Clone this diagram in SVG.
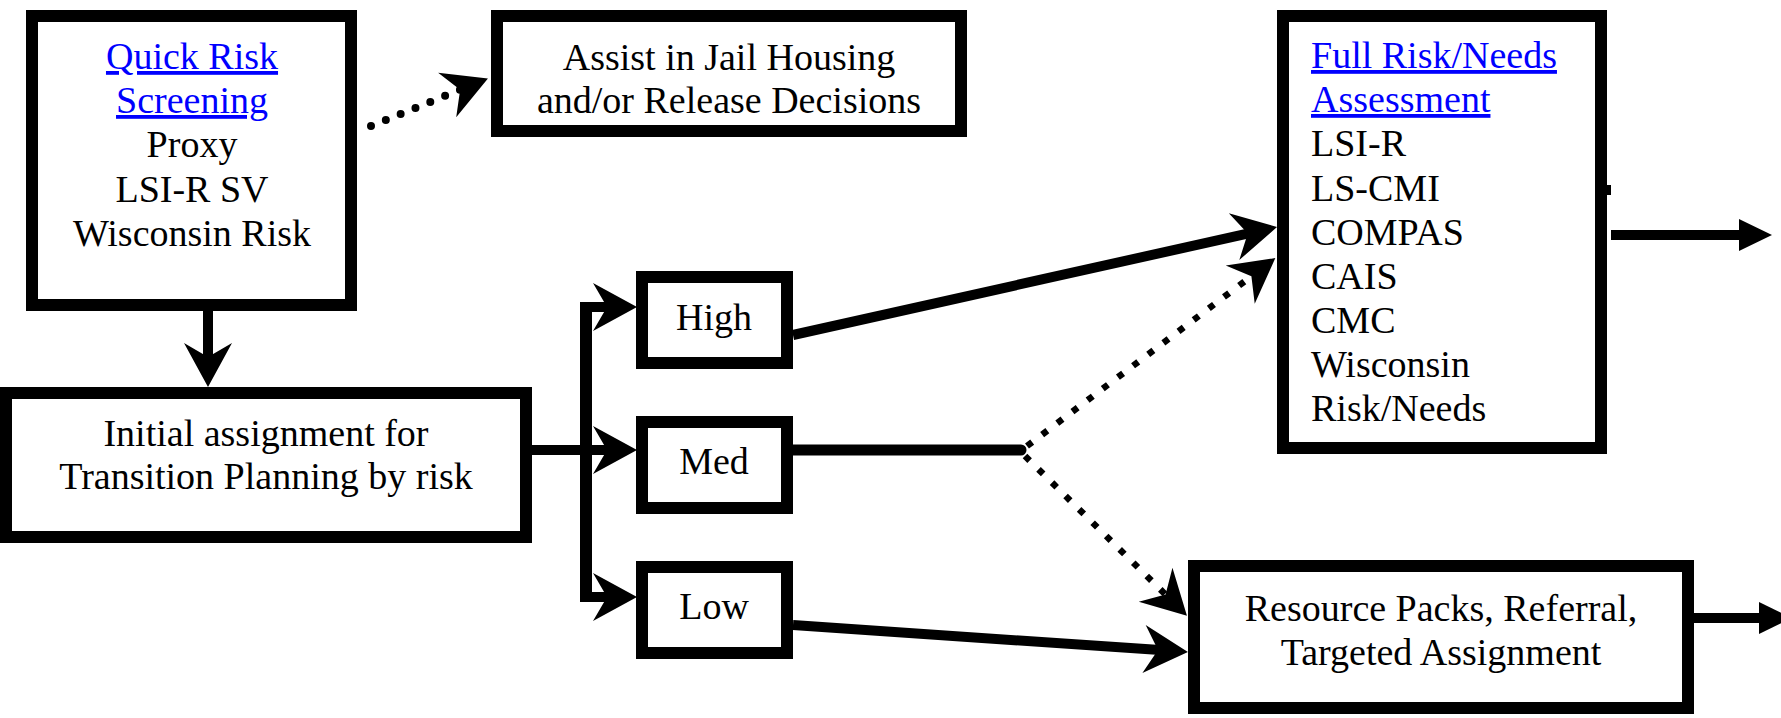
<svg xmlns="http://www.w3.org/2000/svg" width="1781" height="718" viewBox="0 0 1781 718">
<defs>
<marker id="stealth" markerUnits="userSpaceOnUse" viewBox="-50 -30 60 60" markerWidth="60" markerHeight="60" refX="-28" refY="0" orient="auto">
<path d="M0,0 L-44,-24 L-30,0 L-44,24 Z" fill="#000"/>
</marker>
<marker id="tri" markerUnits="userSpaceOnUse" viewBox="-40 -20 50 40" markerWidth="50" markerHeight="40" refX="-32" refY="0" orient="auto">
<path d="M0,0 L-33,-16 L-33,16 Z" fill="#000"/>
</marker>
</defs>
<g id="connectors" fill="none" stroke="#000" stroke-width="10">
<path d="M208,311 V359" marker-end="url(#stealth)"/>
<path d="M371,126 L462,89" stroke-width="8" stroke-linecap="round" stroke-dasharray="0 16" marker-end="url(#stealth)"/>
<path d="M532,450 H609" marker-end="url(#stealth)"/>
<path d="M586,302 V602" stroke-width="12"/>
<path d="M580,307 H609" marker-end="url(#stealth)"/>
<path d="M580,597 H609" marker-end="url(#stealth)"/>
<path d="M793,335 L1249.7,233.1" marker-end="url(#stealth)"/>
<path d="M793,450 H1021" stroke-width="11" stroke-linecap="round"/>
<path d="M1027,446 L1253,275" stroke-width="6.5" stroke-dasharray="6.5 12.5" marker-end="url(#stealth)"/>
<path d="M1025,456 L1167,596" stroke-width="6.5" stroke-dasharray="6.5 12.5" marker-end="url(#stealth)"/>
<path d="M793,625 L1160,650.1" marker-end="url(#stealth)"/>
<rect x="1606" y="185" width="5" height="10" fill="#000" stroke="none"/>
<path d="M1611,235 H1740" marker-end="url(#tri)"/>
<path d="M1694,618 H1760" marker-end="url(#tri)"/>
</g>
<g font-family="Liberation Serif" font-size="38" fill="#000">
<g id="quick" text-anchor="middle">
<rect x="32" y="16" width="319" height="289" fill="#fff" stroke="#000" stroke-width="12"/>
<text x="192" y="69" fill="#0000ff" text-decoration="underline">Quick Risk</text>
<text x="192" y="113" fill="#0000ff" text-decoration="underline">Screening</text>
<text x="192" y="157">Proxy</text>
<text x="192" y="202">LSI-R SV</text>
<text x="192" y="246">Wisconsin Risk</text>
</g>
<g id="assist" text-anchor="middle">
<rect x="497" y="16" width="464" height="115" fill="#fff" stroke="#000" stroke-width="12"/>
<text x="729" y="70">Assist in Jail Housing</text>
<text x="729" y="113">and/or Release Decisions</text>
</g>
<g id="full">
<rect x="1283" y="16" width="318" height="432" fill="#fff" stroke="#000" stroke-width="12"/>
<text x="1311" y="68" fill="#0000ff" text-decoration="underline">Full Risk/Needs</text>
<text x="1311" y="112" fill="#0000ff" text-decoration="underline">Assessment</text>
<text x="1311" y="156">LSI-R</text>
<text x="1311" y="201">LS-CMI</text>
<text x="1311" y="245">COMPAS</text>
<text x="1311" y="289">CAIS</text>
<text x="1311" y="333">CMC</text>
<text x="1311" y="377">Wisconsin</text>
<text x="1311" y="421">Risk/Needs</text>
</g>
<g id="initial" text-anchor="middle">
<rect x="6" y="393" width="520" height="144" fill="#fff" stroke="#000" stroke-width="12"/>
<text x="266" y="446">Initial assignment for</text>
<text x="266" y="489">Transition Planning by risk</text>
</g>
<g id="high" text-anchor="middle">
<rect x="642" y="277" width="145" height="86" fill="#fff" stroke="#000" stroke-width="12"/>
<text x="714" y="330">High</text>
</g>
<g id="med" text-anchor="middle">
<rect x="642" y="422" width="145" height="86" fill="#fff" stroke="#000" stroke-width="12"/>
<text x="714" y="474">Med</text>
</g>
<g id="low" text-anchor="middle">
<rect x="642" y="567" width="145" height="86" fill="#fff" stroke="#000" stroke-width="12"/>
<text x="714" y="619">Low</text>
</g>
<g id="resource" text-anchor="middle">
<rect x="1194" y="566" width="494" height="142" fill="#fff" stroke="#000" stroke-width="12"/>
<text x="1441" y="621">Resource Packs, Referral,</text>
<text x="1441" y="665">Targeted Assignment</text>
</g>
</g>
</svg>
